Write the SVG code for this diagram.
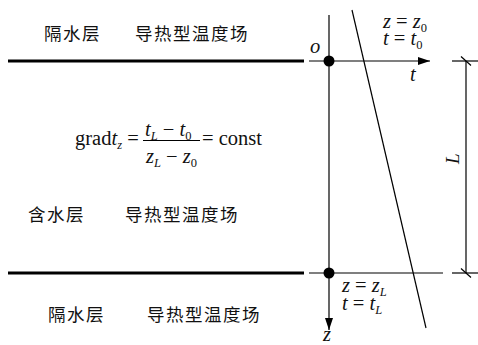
<svg xmlns="http://www.w3.org/2000/svg" width="478" height="345" viewBox="0 0 478 345">
<defs>
<style>
.cn{font-family:"Noto Sans CJK SC","Noto Sans CJK JP",sans-serif;font-size:17.5px;fill:#111;letter-spacing:1.5px}
.m{font-family:"Liberation Serif","Times New Roman",serif;font-size:20.5px;fill:#111}
.i{font-style:italic}
.s{font-size:12.5px}
.thick{stroke:#000;stroke-width:3.2;fill:none}
.thin{stroke:#000;stroke-width:1.2;fill:none}
</style>
<marker id="arr" viewBox="0 0 12 8" refX="12" refY="4" markerWidth="12" markerHeight="8" markerUnits="userSpaceOnUse" orient="auto">
<path d="M0,0 L12,4 L0,8 Z" fill="#000"/>
</marker>
</defs>
<rect width="478" height="345" fill="#fff"/>

<g id="layers">
<line class="thick" x1="8" y1="61" x2="304" y2="61"/>
<line class="thick" x1="8" y1="273" x2="304" y2="273"/>
</g>

<g id="connectors">
<line class="thin" x1="309" y1="61" x2="430" y2="61" marker-end="url(#arr)"/>
<line class="thin" x1="309" y1="273" x2="443" y2="273"/>
<line class="thin" x1="329" y1="15" x2="329" y2="330" marker-end="url(#arr)"/>
<line class="thin" x1="352" y1="10" x2="426" y2="328"/>
<line class="thin" x1="466" y1="61" x2="466" y2="273"/>
<line class="thin" x1="452" y1="61" x2="478" y2="61"/>
<line class="thin" x1="452" y1="273" x2="478" y2="273"/>
<line class="thin" x1="461" y1="56.5" x2="471" y2="65.5"/>
<line class="thin" x1="461" y1="268.5" x2="471" y2="277.5"/>
</g>

<g id="points">
<circle cx="329" cy="61" r="5.5" fill="#000"/>
<circle cx="329" cy="273" r="5.5" fill="#000"/>
</g>

<g id="labels-cn">
<text class="cn" x="44" y="40">隔水层</text>
<text class="cn" x="135" y="40">导热型温度场</text>
<text class="cn" x="28" y="221">含水层</text>
<text class="cn" x="125" y="221">导热型温度场</text>
<text class="cn" x="48" y="321">隔水层</text>
<text class="cn" x="147" y="321">导热型温度场</text>
</g>

<g id="labels-math">
<text class="m i" x="310" y="53">o</text>
<text class="m i" x="410" y="81">t</text>
<text class="m i" x="323" y="341">z</text>
<text class="m" x="383" y="28"><tspan class="i">z</tspan> = <tspan class="i">z</tspan><tspan class="s" dy="4">0</tspan></text>
<text class="m" x="383" y="45"><tspan class="i">t</tspan> = <tspan class="i">t</tspan><tspan class="s" dy="4">0</tspan></text>
<text class="m" x="342" y="292"><tspan class="i">z</tspan> = <tspan class="i">z</tspan><tspan class="s i" dy="4">L</tspan></text>
<text class="m" x="342" y="310"><tspan class="i">t</tspan> = <tspan class="i">t</tspan><tspan class="s i" dy="4">L</tspan></text>
<text class="m i" style="font-size:19px" transform="translate(459,164) rotate(-90)">L</text>
</g>

<g id="formula">
<text class="m" x="75" y="145">grad<tspan class="i">t</tspan><tspan class="s i" dy="4">z</tspan><tspan dy="-4"> =</tspan></text>
<text class="m" x="145" y="136"><tspan class="i">t</tspan><tspan class="s i" dy="4">L</tspan><tspan dy="-4"> − </tspan><tspan class="i">t</tspan><tspan class="s" dy="4">0</tspan></text>
<line class="thin" x1="143" y1="140.5" x2="200" y2="140.5" style="stroke-width:1"/>
<text class="m" x="146" y="163"><tspan class="i">z</tspan><tspan class="s i" dy="4">L</tspan><tspan dy="-4"> − </tspan><tspan class="i">z</tspan><tspan class="s" dy="4">0</tspan></text>
<text class="m" x="202" y="145">= const</text>
</g>
</svg>
